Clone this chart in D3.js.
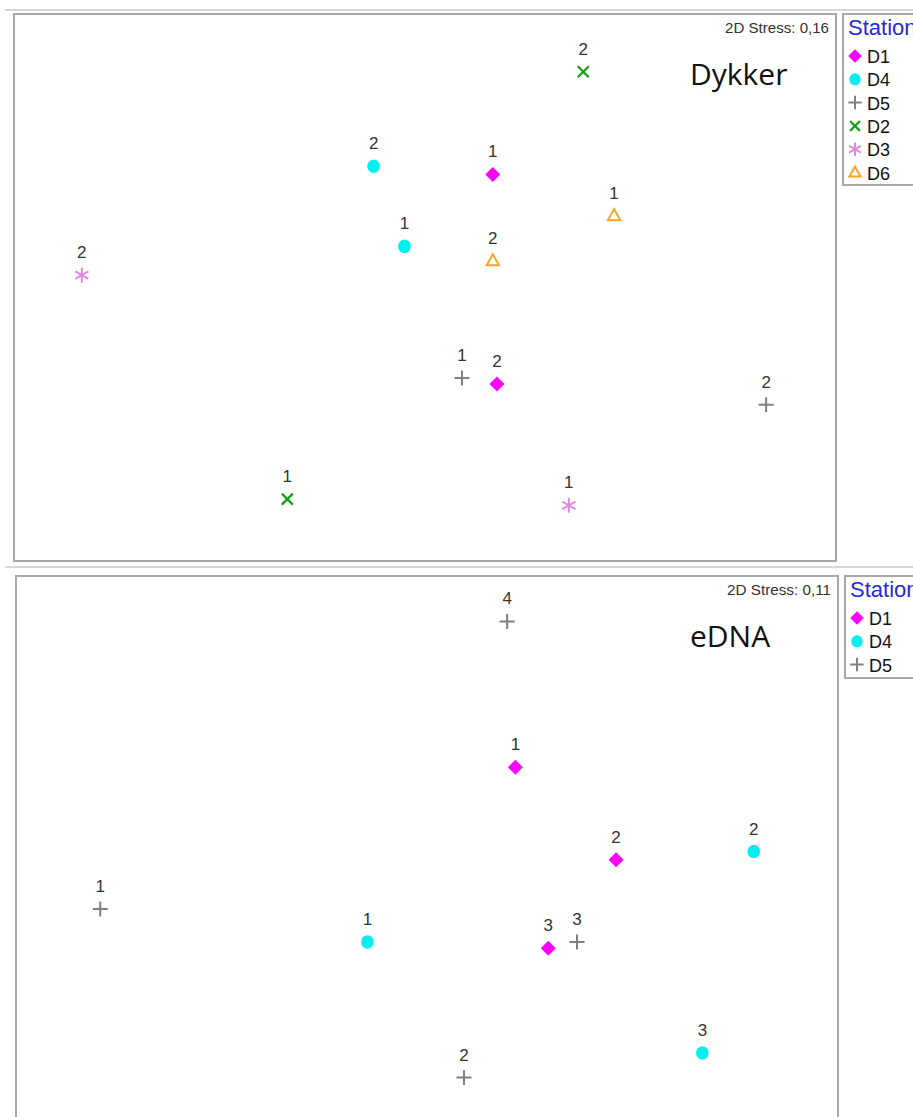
<!DOCTYPE html>
<html>
<head>
<meta charset="utf-8">
<script src="https://cdn.jsdelivr.net/npm/d3@7"></script>
<style>
  body { margin: 0; background: #fff; }
  svg { display: block; font-family: "Liberation Sans", Arial, sans-serif; }
</style>
</head>
<body>
<svg id="chart" width="913" height="1117"></svg>
<script>
// NMDS coordinates
const dykkerStations = ["D2", "D4", "D1", "D6", "D4", "D6", "D3", "D5", "D1", "D5", "D2", "D3"];
const dykkerLabels   = ["2", "2", "1", "1", "1", "2", "2", "1", "2", "2", "1", "1"];
const dykkerX = [0.77, -0.25, 0.33, 0.92, -0.10, 0.33, -1.67, 0.18, 0.35, 1.66, -0.67, 0.70];
const dykkerY = [1.05, 0.59, 0.55, 0.35, 0.20, 0.13, 0.06, -0.44, -0.47, -0.57, -1.03, -1.06];

const ednaStations = ["D5", "D1", "D1", "D4", "D5", "D4", "D1", "D5", "D4", "D5"];
const ednaLabels   = ["4", "1", "2", "2", "1", "1", "3", "3", "3", "2"];
const ednaX = [0.39, 0.43, 0.92, 1.59, -1.59, -0.29, 0.59, 0.73, 1.34, 0.18];
const ednaY = [1.11, 0.40, -0.05, -0.01, -0.29, -0.45, -0.48, -0.45, -0.99, -1.11];

const dykkerLegend = ["D1", "D4", "D5", "D2", "D3", "D6"];
const ednaLegend = ["D1", "D4", "D5"];

const stressLabels = ["2D Stress: 0,16", "2D Stress: 0,11"];
const panelTitles = ["Dykker", "eDNA"];

const svg = d3.select("#chart");

const colors = { D1: "#ff00ff", D4: "#00f0f0", D5: "#808080", D2: "#14a014", D3: "#e088e0", D6: "#f5a623" };

function drawSymbol(g, st, cx, cy, s) {
  s = s || 1;
  if (st === "D1") {
    const r = 7.5 * s;
    g.append("path").attr("d", `M${cx},${cy - r}L${cx + r},${cy}L${cx},${cy + r}L${cx - r},${cy}Z`)
      .attr("fill", colors.D1);
  } else if (st === "D4") {
    g.append("ellipse").attr("cx", cx).attr("cy", cy).attr("rx", 6.3 * s).attr("ry", 6.8 * s).attr("fill", colors.D4);
  } else if (st === "D5") {
    g.append("path").attr("d", `M${cx - 7.5 * s},${cy}H${cx + 7.5 * s}M${cx},${cy - 7.5 * s}V${cy + 7.5 * s}`)
      .attr("stroke", colors.D5).attr("stroke-width", 2).attr("fill", "none");
  } else if (st === "D2") {
    const r = 5.5 * s;
    g.append("path").attr("d", `M${cx - r},${cy - r}L${cx + r},${cy + r}M${cx - r},${cy + r}L${cx + r},${cy - r}`)
      .attr("stroke", colors.D2).attr("stroke-width", 2.2).attr("fill", "none");
  } else if (st === "D3") {
    const r = 7.5 * s;
    let d = `M${cx},${cy - r}V${cy + r}`;
    [30, 150].forEach(a => {
      const dx = r * Math.cos(a * Math.PI / 180), dy = r * Math.sin(a * Math.PI / 180);
      d += `M${cx - dx},${cy - dy}L${cx + dx},${cy + dy}`;
    });
    g.append("path").attr("d", d).attr("stroke", colors.D3).attr("stroke-width", 2).attr("fill", "none");
  } else if (st === "D6") {
    const r = 6.5 * s;
    g.append("path").attr("d", `M${cx},${cy - r}L${cx + r * 0.95},${cy + r * 0.7}L${cx - r * 0.95},${cy + r * 0.7}Z`)
      .attr("stroke", colors.D6).attr("stroke-width", 2).attr("fill", "none");
  }
}

function panel(top, left, stations, labels, xs, ys, legend, legendH, stress, title) {
  const w = 822, h = 547;
  const g = svg.append("g");

  // frame
  g.append("rect").attr("x", left).attr("y", top).attr("width", w).attr("height", h)
    .attr("fill", "#fff").attr("stroke", "#a8a8a8").attr("stroke-width", 2);

  const x = d3.scaleLinear().domain([-2, 2]).range([left, left + w]);
  const y = d3.scaleLinear().domain([1.331, -1.331]).range([top, top + h]);

  g.append("text").attr("x", left + w - 7).attr("y", top + 19)
    .attr("text-anchor", "end").attr("font-size", 14.5).attr("fill", "#333")
    .attr("textLength", 104).attr("lengthAdjust", "spacingAndGlyphs")
    .text(stress);

  g.append("text").attr("x", 690).attr("y", top + 71)
    .attr("font-size", 30).attr("font-family", "'Open Sans', 'Noto Sans', sans-serif").attr("fill", "#111")
    .text(title);

  stations.forEach((st, i) => {
    const cx = x(xs[i]), cy = y(ys[i]);
    drawSymbol(g, st, cx, cy);
    g.append("text").attr("x", cx).attr("y", cy - 17)
      .attr("text-anchor", "middle").attr("font-size", 17).attr("fill", "#333")
      .text(labels[i]);
  });

  // legend
  const lx = left + w + 7;
  const lg = svg.append("g");
  lg.append("rect").attr("x", lx).attr("y", top).attr("width", 120).attr("height", legendH)
    .attr("fill", "#fff").attr("stroke", "#a8a8a8").attr("stroke-width", 2);
  lg.append("text").attr("x", lx + 5).attr("y", top + 21)
    .attr("font-size", 22).attr("fill", "#2828d8").text("Stations");
  legend.forEach((st, i) => {
    const cy = top + 42 + i * 23.3;
    drawSymbol(lg, st, lx + 12, cy, 0.9);
    lg.append("text").attr("x", lx + 24).attr("y", cy + 7)
      .attr("font-size", 18).attr("fill", "#111").text(st);
  });
}

// thin separator lines
svg.append("line").attr("x1", 5).attr("x2", 913).attr("y1", 10).attr("y2", 10)
  .attr("stroke", "#c8c8c8").attr("stroke-width", 1.5);
svg.append("line").attr("x1", 5).attr("x2", 913).attr("y1", 567).attr("y2", 567)
  .attr("stroke", "#c8c8c8").attr("stroke-width", 1.5);

panel(14, 14, dykkerStations, dykkerLabels, dykkerX, dykkerY, dykkerLegend, 171, stressLabels[0], panelTitles[0]);
panel(576, 16, ednaStations, ednaLabels, ednaX, ednaY, ednaLegend, 102, stressLabels[1], panelTitles[1]);
</script>
</body>
</html>
